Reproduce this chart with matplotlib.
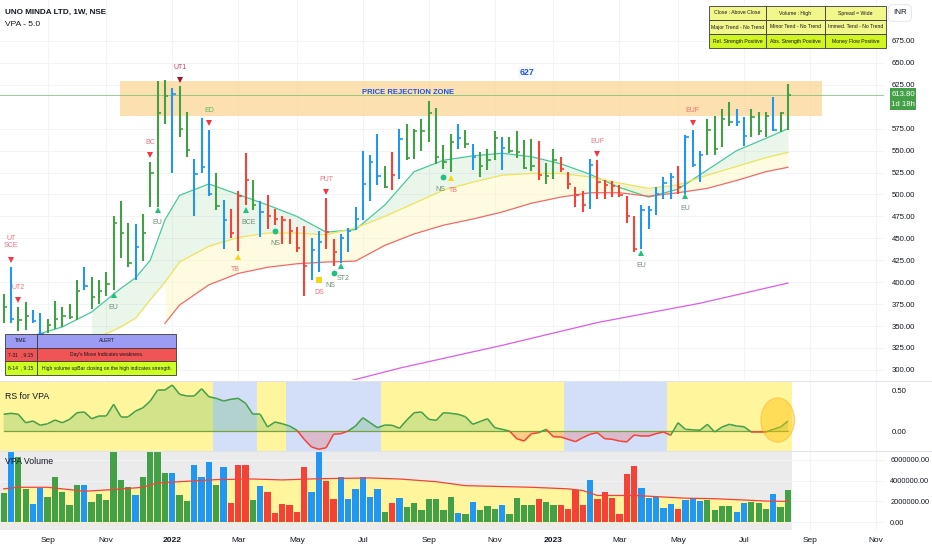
import numpy as np
import pandas as pd
import matplotlib
matplotlib.use("Agg")
import matplotlib.pyplot as plt
from matplotlib.patches import Rectangle, Ellipse
from matplotlib.collections import LineCollection
from matplotlib import transforms

plt.rcParams["font.family"] = ["Liberation Sans", "DejaVu Sans"]

W, H = 932, 550

# weekly bars, first one is the week of 26 Jul 2021, last one 14 Aug 2023
start = "2021-07-26"

highs = [386, 417, 372, 377, 368, 365, 358, 378, 372, 375,
         403, 417, 406, 402, 412, 476, 493, 468, 466, 478,
         537, 629, 630, 621, 624, 594, 541, 587, 574, 525,
         494, 483, 504, 547, 517, 492, 499, 484, 476, 472,
         463, 464, 450, 458, 496, 449, 455, 462, 486, 550,
         545, 569, 533, 548, 575, 580, 575, 586, 606, 599,
         556, 569, 580, 574, 558, 548, 552, 572, 565, 566,
         572, 562, 563, 561, 536, 552, 543, 526, 508, 504,
         540, 539, 516, 515, 511, 498, 475, 488, 487, 509,
         520, 525, 533, 568, 574, 549, 586, 590, 597, 605,
         597, 588, 597, 594, 594, 611, 594, 626]
lows = [353, 353, 344, 345, 353, 334, 342, 347, 349, 358,
        357, 391, 369, 375, 384, 391, 428, 417, 403, 424,
        486, 486, 580, 524, 565, 543, 476, 525, 498, 482,
        438, 450, 436, 488, 482, 451, 461, 465, 444, 444,
        434, 384, 403, 412, 438, 418, 422, 434, 459, 471,
        492, 511, 507, 505, 518, 539, 541, 549, 560, 535,
        529, 526, 552, 553, 528, 520, 528, 539, 528, 547,
        542, 529, 527, 516, 512, 518, 526, 506, 486, 480,
        483, 495, 495, 497, 497, 468, 434, 438, 461, 477,
        495, 495, 501, 501, 531, 514, 545, 545, 554, 578,
        578, 555, 566, 568, 565, 572, 571, 574]
closes = [372, 358, 357, 361, 356, 341, 351, 358, 361, 360,
          390, 396, 383, 390, 398, 468, 456, 422, 440, 456,
          524, 593, 612, 615, 575, 551, 523, 531, 501, 487,
          471, 456, 498, 517, 488, 480, 475, 472, 471, 458,
          439, 418, 437, 446, 457, 434, 450, 458, 472, 512,
          537, 521, 509, 522, 563, 542, 572, 572, 593, 543,
          537, 560, 564, 558, 543, 533, 539, 564, 553, 549,
          548, 530, 533, 522, 521, 539, 529, 512, 499, 488,
          534, 514, 511, 510, 499, 475, 438, 482, 482, 501,
          513, 520, 508, 565, 534, 545, 573, 552, 586, 583,
          583, 567, 588, 572, 590, 574, 593, 613.8]
# g = up bar, b = neutral, r = down bar
bar_kind = ("g b g g b b g g g g g b g g g g g g b g g g g b g g b b b g "
            "b r r r g b r r r r r r b b r r b b b b b b g r b g g g g g "
            "g g b g b g g g b g g g g r g g r r r r b r r r r r r b b b "
            "b b r b b b g g g g b b g g g b g g").split()

volume = [2.79, 6.80, 6.31, 3.21, 1.78, 3.30, 2.41, 4.38, 2.89, 1.62,
          3.59, 3.59, 1.94, 2.67, 2.10, 6.79, 4.06, 3.37, 2.57, 4.32,
          6.79, 6.79, 4.70, 4.70, 2.57, 2.00, 5.49, 4.32, 5.81, 3.59,
          5.33, 1.87, 5.52, 5.52, 2.16, 3.46, 2.86, 0.89, 1.71, 1.65,
          1.02, 5.33, 2.86, 6.79, 4.00, 2.19, 4.38, 2.19, 3.17, 4.32,
          2.41, 3.21, 0.98, 1.84, 2.29, 1.46, 1.84, 1.14, 2.19, 2.19,
          1.14, 2.41, 0.89, 0.76, 1.94, 1.21, 1.56, 1.30, 1.62, 0.76,
          2.35, 1.68, 1.68, 2.25, 1.94, 1.62, 1.68, 1.30, 3.11, 1.62,
          4.10, 2.25, 2.86, 2.32, 0.76, 4.63, 5.40, 3.30, 2.32, 2.41,
          1.37, 1.71, 1.27, 2.10, 2.32, 2.03, 2.10, 1.21, 1.59, 1.59,
          0.95, 1.84, 1.94, 1.84, 1.30, 2.67, 1.46, 3.14]  # millions

vol_ma_idx = [0, 2, 6, 11, 15, 19, 21, 24, 29, 34, 38, 43, 50, 54, 59, 63,
              68, 72, 77, 79, 81, 86, 88, 93, 97, 102, 104, 107]
vol_ma = [3.21, 3.36, 3.36, 2.98, 3.14, 3.36, 3.78, 3.90, 4.10, 4.16, 4.07,
          4.19, 4.26, 4.16, 3.90, 3.52, 3.43, 3.36, 3.21, 3.05, 2.57, 2.57,
          2.50, 2.31, 2.26, 2.10, 2.03, 2.00]

rs = [0.204, 0.216, 0.204, 0.101, 0.122, 0.070, 0.089, 0.134, 0.101, 0.143,
      0.223, 0.232, 0.150, 0.183, 0.183, 0.326, 0.174, 0.174, 0.244, 0.284,
      0.366, 0.500, 0.500, 0.561, 0.448, 0.427, 0.427, 0.516, 0.418, 0.399,
      0.366, 0.387, 0.399, 0.338, 0.204, 0.204, 0.049, 0.110, 0.089, 0.061,
      0.009, -0.101, -0.195, -0.223, -0.204, -0.040, -0.033, 0.000, 0.061, 0.162,
      0.101, 0.040, 0.073, 0.070, 0.033, 0.134, 0.223, 0.232, 0.143, 0.130,
      0.223, 0.216, 0.204, 0.174, 0.082, 0.116, 0.150, 0.040, 0.021, 0.000,
      -0.094, -0.122, -0.033, -0.021, 0.021, -0.070, -0.073, -0.101, -0.130, -0.082,
      -0.040, -0.021, -0.094, -0.101, -0.122, -0.134, -0.049, -0.061, -0.061, -0.033,
      -0.012, -0.052, 0.101, 0.021, 0.015, 0.009, 0.082, -0.012, 0.049, 0.082,
      0.061, 0.052, -0.012, -0.012, -0.012, 0.021, 0.049, 0.122]

# background state of the RS pane: (first bar, last bar, state)
rs_phases = [(0, 28, "up"), (29, 34, "down"), (35, 38, "up"), (39, 51, "down"),
             (52, 76, "up"), (77, 90, "down"), (91, 107, "up")]

nan = np.nan
ma_idx = [4, 8, 12, 16, 18, 20, 22, 24, 28, 32, 36, 40, 44, 48, 52, 56, 60,
          64, 68, 72, 76, 80, 84, 88, 92, 96, 100, 104, 107]
ma_fast = [339, 349, 366, 393, 405, 425, 471, 499, 512, 500, 488, 475, 457,
           460, 488, 526, 539, 544, 547, 543, 535, 523, 508, 497, 506, 528,
           550, 564, 575]
ma_mid = [nan, nan, 334, 349, 359, 380, 400, 423, 441, 451, 456, 456, 454,
          462, 475, 490, 505, 514, 522, 524, 524, 520, 513, 507, 511, 522,
          532, 542, 548]
ma_slow = [nan, nan, nan, nan, nan, nan, 353, 374, 397, 410, 417, 421, 423,
           424, 442, 455, 465, 472, 480, 490, 497, 502, 502, 498, 502, 507,
           516, 526, 531]
ma_long_idx = [47, 54, 68, 81, 95, 107]
ma_long = [287, 302, 328, 354, 376, 399]

# (bar, price, kind, label)
signals = [
    (1, 425, "sell", "UT\nSCE"), (2, 380, "sell", "UT2"), (15, 385, "buy", "EU"),
    (20, 545, "sell", "BC"), (21, 482, "buy", "EU"), (24, 631, "sell_dark", "UT1"),
    (28, 581, "sell_ed", "ED"), (32, 429, "test", "TB"), (33, 482, "buy", "BCE"),
    (37, 458, "dot", "NS"), (43, 403, "ds", "DS"), (44, 503, "sell", "PUT"),
    (45, 410, "dot", "NS"), (46, 418, "buy", "ST2"), (60, 520, "dot", "NS"),
    (61, 519, "test", "TB"), (81, 546, "sell", "EUF"), (87, 433, "buy", "EU"),
    (93, 498, "buy", "EU"), (94, 582, "sell", "EUF"),
]

zone_top, zone_bottom = 629, 590
last_price = 613.8

info_rows = [["Close : Above Close", "Volume : High", "Spread = Wide"],
             ["Major Trend - No Trend", "Minor Tend - No Trend", "Immed. Tend - No Trend"],
             ["Rel. Strength Positive", "Abs. Strength Positive", "Money Flow Positive"]]
alert_rows = [["TIME", "ALERT"],
              ["7-31  , 9:15", "Day's Move Indicates weakness."],
              ["8-14  , 9:15", "High volume upBar closing on the high indicates strength."]]

# ---------------------------------------------------------------------------
n = len(closes)
x = np.arange(n)
col_map = {"g": "#43a047", "b": "#2196f3", "r": "#f44336"}
bar_cols = [col_map[k] for k in bar_kind]
dates = pd.date_range(start, periods=125, freq="7D")

fig = plt.figure(figsize=(W / 100, H / 100), dpi=100)


def fx(px):
    return px / W


def fy(py):
    return 1 - py / H


ax_w = fx(884)
ax = fig.add_axes([0, fy(380), ax_w, 380 / H])
ax_rs = fig.add_axes([0, fy(451), ax_w, 70 / H], sharex=ax)
ax_v = fig.add_axes([0, fy(530), ax_w, 79 / H], sharex=ax)

ticks, labels = [], []
for i, d in enumerate(dates):
    if d.month % 2 == 1 and d.day <= 7:
        ticks.append(i)
        labels.append(str(d.year) if d.month == 1 else d.strftime("%b"))

for a in (ax, ax_rs, ax_v):
    for s in a.spines.values():
        s.set_visible(False)
    a.yaxis.tick_right()
    a.tick_params(length=0, labelsize=5.6, labelcolor="#131722", pad=5.5)
    a.set_xlim(-0.5, 120.1)
    a.set_xticks(ticks)
    for t in ticks:
        a.axvline(t, color="#f2f4f8", lw=0.7, zorder=0)

# ---- price pane
ax.set_ylim(288.5, 721.7)
price_ticks = [p for p in range(300, 700, 25) if p != 600]
ax.set_yticks(price_ticks)
ax.set_yticklabels([f"{p:.2f}" for p in price_ticks])
for p in price_ticks:
    ax.axhline(p, color="#f2f4f8", lw=0.7, zorder=0)

ax.add_patch(Rectangle((15.9, zone_bottom), 111.6 - 15.9, zone_top - zone_bottom,
                       fc="#fcd48e", alpha=0.7, ec="none", zorder=1))
ax.axhline(last_price, color="#66bb6a", lw=0.6, alpha=0.8, zorder=2)
ax.text(55.2, 615.7, "PRICE REJECTION ZONE", color="#1e53e5", fontsize=5.5,
        fontweight="bold", ha="center", va="center", zorder=3)
ax.text(71.4, 638.5, "627", color="#1e53e5", fontsize=6.3, fontweight="bold",
        ha="center", va="center", zorder=3,
        bbox=dict(boxstyle="square,pad=0.2", fc="#f6f8fd", ec="none"))

mi = np.array(ma_idx)
f_ = np.array(ma_fast, float)
m_ = np.array(ma_mid, float)
s_ = np.array(ma_slow, float)
ok = ~np.isnan(m_)
ax.fill_between(mi[ok], f_[ok], m_[ok], color="#4caf50", alpha=0.11, lw=0, zorder=1)
ok2 = ~np.isnan(s_)
ax.fill_between(mi[ok2], m_[ok2], s_[ok2], color="#fff59d", alpha=0.3, lw=0, zorder=1)
ax.plot(mi, f_, color="#45c99a", lw=0.9, zorder=2)
ax.plot(mi, m_, color="#f0e35a", lw=0.9, zorder=2)
ax.plot(mi, s_, color="#f06a6a", lw=0.9, zorder=2)
ax.plot(ma_long_idx, ma_long, color="#da5ee6", lw=0.9, zorder=2)

ax.vlines(x, lows, highs, colors=bar_cols, lw=1.5, zorder=4)
ax.hlines(closes, x, x + 0.45, colors=bar_cols, lw=1.2, zorder=4)

sig_style = {
    "sell": ("v", "#f23645", "#f0707a", 1),
    "sell_dark": ("v", "#a3122b", "#c2405a", 1),
    "sell_ed": ("v", "#f23645", "#5cb85c", 1),
    "buy": ("^", "#1fc27d", "#6b8f70", -1),
    "test": ("^", "#f7d60f", "#f0707a", -1),
    "dot": ("o", "#1fc27d", "#6b8f70", -1),
    "ds": ("s", "#f7d60f", "#f0707a", -1),
}
for k, (b, p, kind, lab) in enumerate(signals):
    mk, mc, tc, side = sig_style[kind]
    ax.plot(b, p, marker=mk, color=mc, ms=4.2, mew=0, zorder=5)
    off = 9 if "\n" not in lab else 13
    # the NS / TB pair on neighbouring bars sits very close together
    dx = 0
    if k + 1 < len(signals) and signals[k + 1][0] - b == 1 and side == -1 \
            and sig_style[signals[k + 1][2]][3] == -1:
        dx = -2
    elif k > 0 and b - signals[k - 1][0] == 1 and side == -1 \
            and sig_style[signals[k - 1][2]][3] == -1:
        dx = 2
    ax.annotate(lab, (b, p), xytext=(dx, side * off), textcoords="offset points",
                ha="center", va="center", fontsize=5.0, color=tc, zorder=5,
                linespacing=1.0)

blend = transforms.blended_transform_factory(ax.transAxes, ax.transData)
ax.add_patch(Rectangle((fx(890) / ax_w, 596.3), fx(26) / ax_w, 25.1, transform=blend,
                       fc="#43a047", ec="none", clip_on=False, zorder=10))
ax.text(fx(903) / ax_w, last_price, "613.80", transform=blend, color="white",
        fontsize=5.6, ha="center", va="center", zorder=11, clip_on=False)
ax.text(fx(903) / ax_w, 602.5, "1d 18h", transform=blend, color="white",
        fontsize=5.6, ha="center", va="center", zorder=11, clip_on=False)
ax.tick_params(labelbottom=False)

# ---- RS pane
colors_bg = {"up": "#fff59d", "down": "#d3def9"}
for a0, a1, st in rs_phases:
    ax_rs.axvspan(a0 - 0.5, a1 + 0.5, color=colors_bg[st], lw=0, zorder=0)
rs_a = np.array(rs)
ax_rs.fill_between(x, rs_a, 0, where=rs_a >= 0, interpolate=True,
                   color="#4caf50", alpha=0.25, lw=0, zorder=1)
ax_rs.fill_between(x, rs_a, 0, where=rs_a <= 0, interpolate=True,
                   color="#f44336", alpha=0.22, lw=0, zorder=1)
ax_rs.plot([x[0], x[-1]], [0, 0], color="#7aa33a", lw=0.9, zorder=2)
segs = [[(x[i], rs_a[i]), (x[i + 1], rs_a[i + 1])] for i in range(n - 1)]
seg_cols = ["#43a047" if rs_a[i] + rs_a[i + 1] >= 0 else "#f44336" for i in range(n - 1)]
ax_rs.add_collection(LineCollection(segs, colors=seg_cols, lw=1.1, zorder=3))
ax_rs.add_patch(Ellipse((105.6, 0.134), 4.6, 0.54, fc="#ffc107", alpha=0.45,
                        ec="#f5a623", lw=0.8, zorder=4))
ax_rs.set_ylim(-0.244, 0.61)
ax_rs.set_yticks([0, 0.5])
ax_rs.set_yticklabels(["0.00", "0.50"])
ax_rs.text(0.006, 0.78, "RS for VPA", transform=ax_rs.transAxes, fontsize=6.3,
           color="#131722", va="center")
ax_rs.tick_params(labelbottom=False)

# ---- volume pane
ax_v.axvspan(-0.5, n - 0.5, color="#ebebeb", lw=0, zorder=0)
ax_v.fill_between(vol_ma_idx, 0, np.array(vol_ma) * 1e6, color="#fff59d", lw=0, zorder=1)
ax_v.bar(x, np.array(volume) * 1e6, width=0.86, color=bar_cols, zorder=2)
ax_v.plot(vol_ma_idx, np.array(vol_ma) * 1e6, color="#f44336", lw=0.9, zorder=3)
ax_v.set_ylim(-0.76e6, 6.86e6)
vt = [0, 2e6, 4e6, 6e6]
ax_v.set_yticks(vt)
ax_v.set_yticklabels([f"{v:.2f}" for v in vt])
ax_v.tick_params(axis="y", labelsize=5.3, pad=4.5)
for v in vt:
    ax_v.axhline(v, color="#f2f4f8", lw=0.7, zorder=0)
ax_v.set_xticklabels(labels)
ax_v.tick_params(axis="x", pad=5, labelsize=6)
for lab in ax_v.get_xticklabels():
    if lab.get_text().isdigit():
        lab.set_fontweight("bold")
ax_v.text(0.006, 0.87, "VPA Volume", transform=ax_v.transAxes, fontsize=6.3,
          color="#131722", va="center")

# pane separators
for yy in (381, 451):
    fig.add_artist(plt.Line2D([0, 1], [fy(yy), fy(yy)], color="#e0e3eb", lw=0.8))

# ---- header texts
fig.text(fx(5), fy(12), "UNO MINDA LTD, 1W, NSE", fontsize=5.9, fontweight="bold",
         color="#131722", va="center")
fig.text(fx(5), fy(24), "VPA - 5.0", fontsize=6, color="#131722", va="center")
fig.text(fx(893), fy(13), "INR", fontsize=5.8, color="#131722", va="center",
         bbox=dict(boxstyle="round,pad=0.6", fc="white", ec="#e0e3eb", lw=0.6))


def draw_table(x0, y0, widths, row_h, rows, fills, fs):
    yy = y0
    for r, row in enumerate(rows):
        xx = x0
        for c, txt in enumerate(row):
            w = widths[c]
            fig.add_artist(Rectangle((fx(xx), fy(yy + row_h)), fx(w), row_h / H,
                                     transform=fig.transFigure, fc=fills[r],
                                     ec="#3a3a3a", lw=0.6, zorder=20))
            fig.text(fx(xx + w / 2), fy(yy + row_h / 2), txt, fontsize=fs,
                     color="#131722", ha="center", va="center", zorder=21)
            xx += w
        yy += row_h


draw_table(709, 6, [57, 59, 61], 14, info_rows, ["#f2f78c", "#f2f78c", "#d0f51f"], 3.7)
draw_table(5, 334, [32, 139], 13.7, alert_rows, ["#9d9cf4", "#f05454", "#ccff22"], 3.6)

fig.savefig("out.png", dpi=100)
